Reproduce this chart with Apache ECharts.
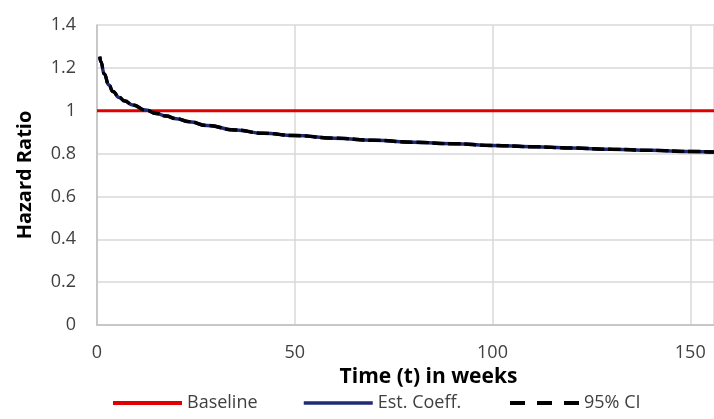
<!doctype html>
<html>
<head>
    <meta charset="utf-8">
    <title>Hazard Ratio</title>
    <style>
        body { margin: 0; background: #fff; }
        #chart { width: 714px; height: 419px; }
    </style>
</head>
<body>
    <div id="chart"></div>
    <script src="https://cdn.jsdelivr.net/npm/echarts@6/dist/echarts.min.js"></script>
    <script>
        // values
        var weeks = [0.7, 1, 1.8, 3, 4, 5.6, 7, 9, 12.3, 15, 17.4, 20, 23.3, 27.8, 35, 42, 50, 60, 70, 80, 90, 100, 110, 120, 130, 140, 150, 156];
        var estCoeff = [1.252, 1.228, 1.172, 1.12, 1.09, 1.062, 1.045, 1.027, 1.003, 0.987, 0.975, 0.963, 0.949, 0.931, 0.91, 0.895, 0.884, 0.872, 0.862, 0.853, 0.846, 0.838, 0.832, 0.826, 0.82, 0.815, 0.81, 0.807];
        var ciUpper = [1.253, 1.229, 1.173, 1.121, 1.091, 1.063, 1.046, 1.028, 1.004, 0.988, 0.976, 0.964, 0.950, 0.932, 0.911, 0.896, 0.885, 0.873, 0.863, 0.854, 0.847, 0.839, 0.833, 0.827, 0.821, 0.816, 0.811, 0.808];
        var ciLower = [1.251, 1.227, 1.171, 1.119, 1.089, 1.061, 1.044, 1.026, 1.002, 0.986, 0.974, 0.962, 0.948, 0.930, 0.909, 0.894, 0.883, 0.871, 0.861, 0.852, 0.845, 0.837, 0.831, 0.825, 0.819, 0.814, 0.809, 0.806];
        var baseline = [[0, 1], [156, 1]];

        var pairs = function (xs, ys) {
            var out = [];
            for (var i = 0; i < xs.length; i++) {
                out.push([xs[i], ys[i]]);
            }
            return out;
        };

        var font = "'Open Sans', 'Liberation Sans', sans-serif";
        var legendText = { fontSize: 18, color: '#404040', fontFamily: font };

        var makeLegend = function (name, left, lineStyle) {
            return {
                top: 394,
                left: left,
                padding: 0,
                itemWidth: 69,
                itemHeight: 12,
                textStyle: legendText,
                data: [{ name: name, itemStyle: { opacity: 0 }, lineStyle: lineStyle }]
            };
        };

        var myChart = echarts.init(document.getElementById('chart'));
        var option = {
            animation: false,
            textStyle: { fontFamily: font },
            grid: { left: 97, right: 0, top: 25, bottom: 94 },
            legend: [
                makeLegend('Baseline', 111, { width: 4 }),
                makeLegend('Est. Coeff.', 302, { width: 3.5 }),
                makeLegend('95% CI', 508, { width: 4, type: [15, 12] })
            ],
            xAxis: {
                type: 'value',
                min: 0,
                max: 156,
                interval: 50,
                name: 'Time (t) in weeks',
                nameLocation: 'middle',
                nameGap: 42,
                nameTextStyle: { fontSize: 21, fontWeight: 'bold', color: '#000', fontFamily: font, padding: [0, 0, 0, 46] },
                axisLine: { show: true, lineStyle: { color: '#bfbfbf', width: 1.5 } },
                axisTick: { show: false },
                axisLabel: { fontSize: 18, color: '#404040', margin: 19, showMaxLabel: false },
                splitLine: { show: true, lineStyle: { color: '#d9d9d9', width: 1.5 } }
            },
            yAxis: {
                type: 'value',
                min: 0,
                max: 1.4,
                interval: 0.2,
                name: 'Hazard Ratio',
                nameLocation: 'middle',
                nameGap: 62,
                nameTextStyle: { fontSize: 20, fontWeight: 'bold', color: '#000', fontFamily: font },
                axisLine: { show: true, lineStyle: { color: '#bfbfbf', width: 1.5 } },
                axisTick: { show: false },
                axisLabel: { fontSize: 18, color: '#404040', margin: 21 },
                splitLine: { show: true, lineStyle: { color: '#d9d9d9', width: 1.5 } }
            },
            series: [
                {
                    name: 'Baseline',
                    type: 'line',
                    symbol: 'none',
                    data: baseline,
                    lineStyle: { color: '#e00000', width: 3 },
                    itemStyle: { color: '#e00000' }
                },
                {
                    name: 'Est. Coeff.',
                    type: 'line',
                    symbol: 'none',
                    smooth: true,
                    smoothMonotone: 'x',
                    data: pairs(weeks, estCoeff),
                    lineStyle: { color: '#1f2a78', width: 3.5 },
                    itemStyle: { color: '#1f2a78' }
                },
                {
                    name: '95% CI',
                    type: 'line',
                    symbol: 'none',
                    smooth: true,
                    smoothMonotone: 'x',
                    data: pairs(weeks, ciUpper),
                    lineStyle: { color: '#000', width: 3, type: [12, 4] },
                    itemStyle: { color: '#000' }
                },
                {
                    name: '95% CI',
                    type: 'line',
                    symbol: 'none',
                    smooth: true,
                    smoothMonotone: 'x',
                    data: pairs(weeks, ciLower),
                    lineStyle: { color: '#000', width: 3, type: [12, 4] },
                    itemStyle: { color: '#000' }
                }
            ]
        };
        myChart.setOption(option);
    </script>
</body>
</html>
